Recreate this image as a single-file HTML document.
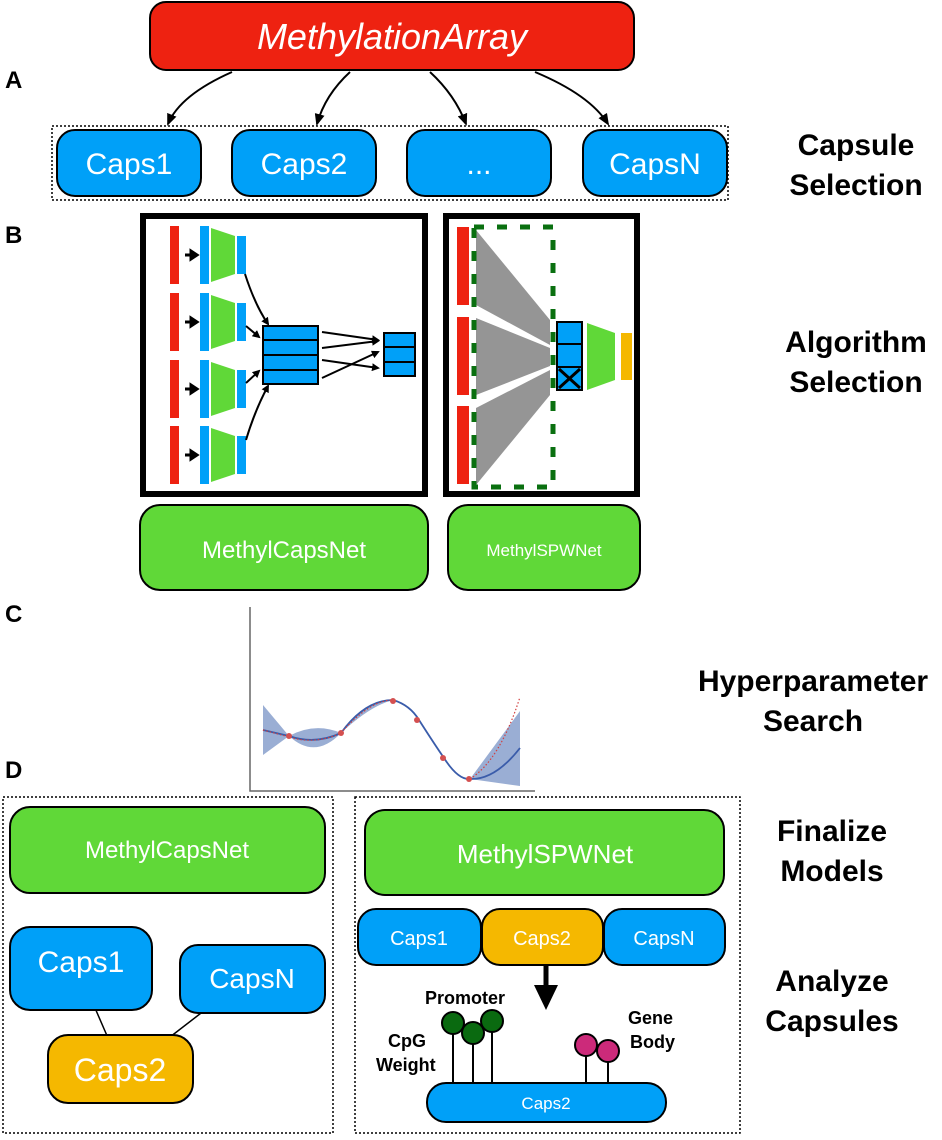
<!DOCTYPE html>
<html><head><style>body{margin:0;background:#fff}</style></head><body>
<svg width="942" height="1135" viewBox="0 0 942 1135" xmlns="http://www.w3.org/2000/svg" font-family="Liberation Sans, sans-serif">
<defs><marker id="ah" markerWidth="8" markerHeight="8" refX="6" refY="4" orient="auto" markerUnits="userSpaceOnUse"><path d="M0,0 L8,4 L0,8 z" fill="#000"/></marker>
<marker id="ah3" markerWidth="12" markerHeight="10" refX="10" refY="5" orient="auto" markerUnits="userSpaceOnUse"><path d="M0,0 L12,5 L0,10 z" fill="#000"/></marker></defs>
<g font-weight="bold" font-size="24" fill="#000">
<text x="5" y="88">A</text><text x="5" y="243">B</text><text x="5" y="622">C</text><text x="5" y="778">D</text>
</g>
<g font-weight="bold" font-size="30" text-anchor="middle" fill="#000">
<text x="856" y="155">Capsule</text><text x="856" y="195">Selection</text>
<text x="856" y="352">Algorithm</text><text x="856" y="392">Selection</text>
<text x="813" y="691">Hyperparameter</text><text x="813" y="731">Search</text>
<text x="832" y="841">Finalize</text><text x="832" y="881">Models</text>
<text x="832" y="991">Analyze</text><text x="832" y="1031">Capsules</text>
</g>
<!-- A -->
<rect x="150" y="2" width="484" height="68" rx="16" fill="#ee2211" stroke="#000" stroke-width="2"/>
<text x="392" y="49" font-size="36" font-style="italic" fill="#fff" text-anchor="middle">MethylationArray</text>
<g fill="none" stroke="#000" stroke-width="2" marker-end="url(#ah3)">
<path d="M232,72 Q180,95 168,124"/><path d="M350,72 Q325,95 317,124"/><path d="M430,72 Q455,95 466,124"/><path d="M535,72 Q590,95 608,124"/>
</g>
<rect x="52" y="126" width="676" height="74" fill="none" stroke="#000" stroke-width="1.5" stroke-dasharray="2,2"/>
<g fill="#00a0f8" stroke="#000" stroke-width="2">
<rect x="57" y="130" width="144" height="66" rx="18"/><rect x="232" y="130" width="144" height="66" rx="18"/><rect x="407" y="130" width="144" height="66" rx="18"/><rect x="583" y="130" width="144" height="66" rx="18"/></g>
<g fill="#fff" font-size="30" text-anchor="middle"><text x="129" y="174">Caps1</text><text x="304" y="174">Caps2</text><text x="479" y="174">...</text><text x="655" y="174">CapsN</text></g>
<!-- B left -->
<rect x="143" y="216" width="282" height="278" fill="none" stroke="#000" stroke-width="6"/>
<g>
<g id="row">
<rect x="170" y="226" width="9" height="58" fill="#ee2211"/>
<rect x="200" y="226" width="9" height="58" fill="#00a0f8"/>
<path d="M211,228 L235,236 L235,274 L211,282 z" fill="#60d838"/>
<rect x="237" y="236" width="9" height="38" fill="#00a0f8"/>
<path d="M185,255 L191,255 L191,251 L197,255 L191,259 L191,255" stroke="#000" stroke-width="3" fill="#000"/>
</g>
<use href="#row" y="67"/><use href="#row" y="134"/><use href="#row" y="200"/>
</g>
<g fill="#00a0f8" stroke="#000" stroke-width="2">
<rect x="263" y="326" width="55" height="14"/><rect x="263" y="340" width="55" height="15"/><rect x="263" y="355" width="55" height="15"/><rect x="263" y="370" width="55" height="14"/>
<rect x="384" y="333" width="31" height="14"/><rect x="384" y="347" width="31" height="15"/><rect x="384" y="362" width="31" height="14"/>
</g>
<g fill="none" stroke="#000" stroke-width="2" marker-end="url(#ah)">
<path d="M245,274 Q255,305 268,324"/><path d="M246,326 L259,337"/><path d="M246,383 L259,371"/><path d="M246,440 Q255,410 268,386"/>
<path d="M322,332 L378,340"/><path d="M322,348 L378,341"/><path d="M322,360 L378,368"/><path d="M322,378 L378,352"/>
</g>
<!-- B right -->
<rect x="446" y="216" width="191" height="278" fill="none" stroke="#000" stroke-width="6"/>
<g fill="#ee2211"><rect x="457" y="227" width="12" height="78"/><rect x="457" y="317" width="12" height="78"/><rect x="457" y="406" width="12" height="78"/></g>
<g fill="#959595">
<path d="M476,230 L550,320 L550,345 L476,305 z"/>
<path d="M476,318 L550,348 L550,366 L476,395 z"/>
<path d="M476,408 L550,370 L550,395 L476,485 z"/>
</g>
<rect x="474" y="227" width="79" height="260" fill="none" stroke="#0a7010" stroke-width="5" stroke-dasharray="10,13"/>
<g fill="#00a0f8" stroke="#000" stroke-width="2">
<rect x="557" y="322" width="25" height="22"/><rect x="557" y="344" width="25" height="23"/><rect x="557" y="367" width="25" height="23"/></g>
<path d="M559,369 L580,388 M580,369 L559,388" stroke="#000" stroke-width="3"/>
<path d="M587,323 L615,333 L615,380 L587,390 z" fill="#60d838"/>
<rect x="621" y="333" width="11" height="47" fill="#f5b800"/>
<rect x="140" y="505" width="288" height="85" rx="20" fill="#60d838" stroke="#000" stroke-width="2"/>
<text x="284" y="558" font-size="24" fill="#fff" text-anchor="middle">MethylCapsNet</text>
<rect x="448" y="505" width="192" height="85" rx="20" fill="#60d838" stroke="#000" stroke-width="2"/>
<text x="544" y="556" font-size="17" fill="#fff" text-anchor="middle">MethylSPWNet</text>
<!-- C -->
<path d="M250,607 L250,791 L535,791" fill="none" stroke="#666" stroke-width="1.5"/>
<path d="M263,705 L289,736 Q315,722 341,733 Q370,706 393,700 L419,720 L444,758 L470,779 L520,711 L520,786 L470,779 L444,758 L419,720 L393,700 Q360,703 341,733 Q315,760 289,736 L263,755 z" fill="#9aaed4"/>
<path d="M263,730 L289,736 Q315,745 341,733 Q365,700 393,700 Q410,705 419,720 Q435,745 444,758 Q458,780 470,779 Q495,780 520,748" fill="none" stroke="#3a5caa" stroke-width="1.8"/>
<path d="M263,730 L289,737 Q315,745 341,733 Q370,700 393,700 M470,779 Q500,760 520,697" fill="none" stroke="#d04040" stroke-width="1.2" stroke-dasharray="1.5,2"/>
<g fill="#d45050"><circle cx="289" cy="736" r="3"/><circle cx="341" cy="733" r="3"/><circle cx="393" cy="701" r="3"/><circle cx="417" cy="720" r="3"/><circle cx="443" cy="758" r="3"/><circle cx="469" cy="779" r="3"/></g>
<!-- D -->
<rect x="3" y="797" width="330" height="336" fill="none" stroke="#000" stroke-width="1.5" stroke-dasharray="2,2"/>
<rect x="355" y="797" width="385" height="336" fill="none" stroke="#000" stroke-width="1.5" stroke-dasharray="2,2"/>
<rect x="10" y="807" width="315" height="86" rx="20" fill="#60d838" stroke="#000" stroke-width="2"/>
<text x="167" y="858" font-size="24" fill="#fff" text-anchor="middle">MethylCapsNet</text>
<path d="M95,1008 L108,1038 M205,1010 L170,1037" stroke="#000" stroke-width="1.5"/>
<rect x="10" y="927" width="142" height="83" rx="20" fill="#00a0f8" stroke="#000" stroke-width="2"/>
<text x="81" y="972" font-size="30" fill="#fff" text-anchor="middle">Caps1</text>
<rect x="180" y="945" width="145" height="68" rx="18" fill="#00a0f8" stroke="#000" stroke-width="2"/>
<text x="252" y="988" font-size="28" fill="#fff" text-anchor="middle">CapsN</text>
<rect x="48" y="1035" width="145" height="68" rx="20" fill="#f5b800" stroke="#000" stroke-width="2"/>
<text x="120" y="1081" font-size="32" fill="#fff" text-anchor="middle">Caps2</text>
<rect x="365" y="810" width="359" height="85" rx="20" fill="#60d838" stroke="#000" stroke-width="2"/>
<text x="545" y="863" font-size="26" fill="#fff" text-anchor="middle">MethylSPWNet</text>
<rect x="358" y="909" width="123" height="56" rx="18" fill="#00a0f8" stroke="#000" stroke-width="2"/>
<rect x="604" y="909" width="121" height="56" rx="18" fill="#00a0f8" stroke="#000" stroke-width="2"/>
<rect x="482" y="909" width="121" height="56" rx="18" fill="#f5b800" stroke="#000" stroke-width="2"/>
<g font-size="20" fill="#fff" text-anchor="middle"><text x="419" y="945">Caps1</text><text x="542" y="945">Caps2</text><text x="664" y="945">CapsN</text></g>
<path d="M546,966 L546,988" stroke="#000" stroke-width="5"/><path d="M534,985 L558,985 L546,1010 z" fill="#000"/>
<g stroke="#000" stroke-width="2">
<line x1="453" y1="1024" x2="453" y2="1085"/><line x1="473" y1="1033" x2="473" y2="1085"/><line x1="492" y1="1021" x2="492" y2="1085"/>
<line x1="586" y1="1046" x2="586" y2="1085"/><line x1="608" y1="1051" x2="608" y2="1085"/>
<g fill="#0a6a10"><circle cx="453" cy="1023" r="11"/><circle cx="473" cy="1033" r="11"/><circle cx="492" cy="1021" r="11"/></g>
<g fill="#cc2a7a"><circle cx="586" cy="1045" r="11"/><circle cx="608" cy="1051" r="11"/></g>
</g>
<rect x="427" y="1083" width="239" height="39" rx="19" fill="#00a0f8" stroke="#000" stroke-width="2"/>
<text x="546" y="1109" font-size="17" fill="#fff" text-anchor="middle">Caps2</text>
<g font-size="18" font-weight="bold" fill="#000">
<text x="425" y="1004">Promoter</text>
<text x="388" y="1047">CpG</text><text x="376" y="1071">Weight</text>
<text x="628" y="1024">Gene</text><text x="630" y="1048">Body</text>
</g>
</svg>
</body></html>
